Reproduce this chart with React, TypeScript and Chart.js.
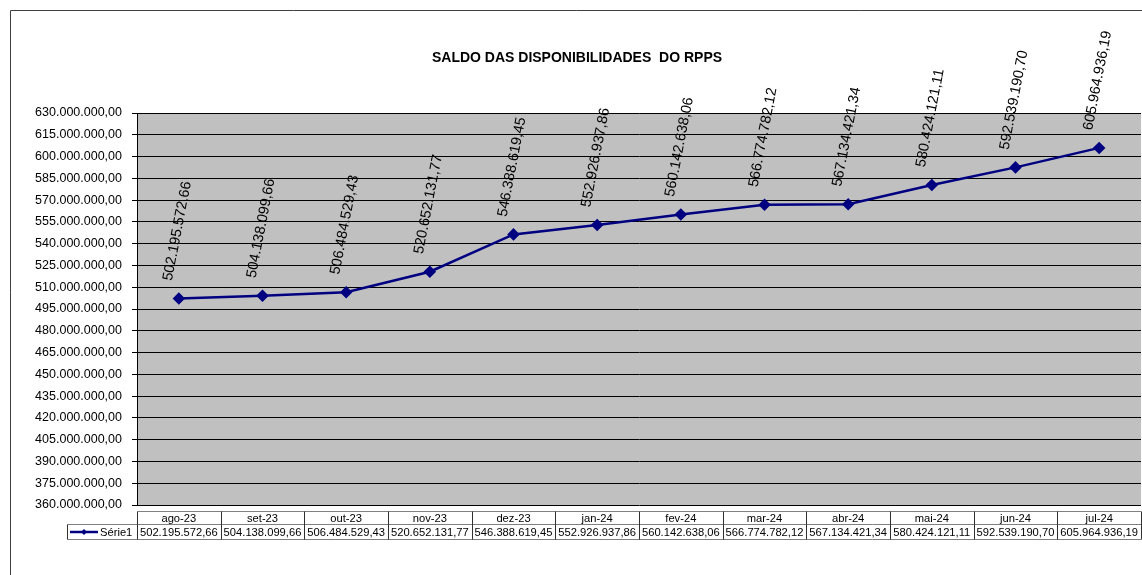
import React, { useEffect, useRef } from "react";
import { Chart, registerables } from "chart.js";

Chart.register(...registerables);

const title = "SALDO DAS DISPONIBILIDADES  DO RPPS";
const seriesName = "Série1";
const categories = [
  "ago-23", "set-23", "out-23", "nov-23", "dez-23", "jan-24",
  "fev-24", "mar-24", "abr-24", "mai-24", "jun-24", "jul-24",
];
const values = [
  502195572.66, 504138099.66, 506484529.43, 520652131.77, 546388619.45, 552926937.86,
  560142638.06, 566774782.12, 567134421.34, 580424121.11, 592539190.7, 605964936.19,
];
const yMin = 360000000;
const yMax = 630000000;
const yStep = 15000000;

const FONT = "'Liberation Sans', Arial, sans-serif";
const NAVY = "#000080";

function fmt(v: number): string {
  const [i, d] = v.toFixed(2).split(".");
  return i.replace(/\B(?=(\d{3})+(?!\d))/g, ".") + "," + d;
}

const decorPlugin = {
  id: "decor",
  beforeDraw(chart: any) {
    const { ctx, chartArea } = chart;
    ctx.save();
    ctx.fillStyle = "#ffffff";
    ctx.fillRect(0, 0, chart.width, chart.height);
    ctx.fillStyle = "#C0C0C0";
    ctx.fillRect(chartArea.left, chartArea.top, chartArea.right - chartArea.left, chartArea.bottom - chartArea.top);
    ctx.restore();
  },
  afterDraw(chart: any) {
    const { ctx } = chart;
    const xs = chart.scales.x;
    ctx.save();
    // outer frame
    ctx.strokeStyle = "#404040";
    ctx.lineWidth = 1;
    ctx.beginPath();
    ctx.moveTo(10.5, chart.height);
    ctx.lineTo(10.5, 10.5);
    ctx.lineTo(chart.width, 10.5);
    ctx.stroke();

    // title
    ctx.fillStyle = "#000";
    ctx.font = `bold 14px ${FONT}`;
    ctx.textAlign = "center";
    ctx.textBaseline = "middle";
    ctx.fillText(title, 577, 58);

    // data labels
    const meta = chart.getDatasetMeta(0);
    ctx.font = `14.5px ${FONT}`;
    ctx.textAlign = "left";
    ctx.textBaseline = "middle";
    meta.data.forEach((pt: any, i: number) => {
      ctx.save();
      ctx.translate(pt.x - 11, pt.y - 18);
      ctx.rotate((-79 * Math.PI) / 180);
      ctx.fillText(fmt(values[i]), 0, 0);
      ctx.restore();
    });

    // data table
    const half = (xs.getPixelForValue(1) - xs.getPixelForValue(0)) / 2;
    const r0 = 511.5, r1 = 524.5, r2 = 539.5;
    const left = xs.getPixelForValue(0) - half;
    const right = xs.getPixelForValue(categories.length - 1) + half;
    const legLeft = 67.5;
    ctx.lineWidth = 1;
    ctx.strokeStyle = "#808080";
    ctx.beginPath();
    ctx.moveTo(Math.round(left) + 0.5, r0);
    ctx.lineTo(right, r0);
    ctx.moveTo(legLeft, r1);
    ctx.lineTo(right, r1);
    ctx.moveTo(legLeft, r2);
    ctx.lineTo(right, r2);
    ctx.stroke();
    ctx.strokeStyle = "#303030";
    ctx.beginPath();
    ctx.moveTo(legLeft, r1);
    ctx.lineTo(legLeft, r2);
    for (let i = 0; i <= categories.length; i++) {
      const xx = Math.round(left + i * 2 * half) + 0.5;
      ctx.moveTo(xx, r0);
      ctx.lineTo(xx, r2);
    }
    ctx.stroke();

    ctx.fillStyle = "#000";
    ctx.font = `11.2px ${FONT}`;
    ctx.textAlign = "center";
    ctx.textBaseline = "middle";
    categories.forEach((c, i) => {
      const cx = xs.getPixelForValue(i);
      ctx.fillText(c, cx, (r0 + r1) / 2 + 0.5);
      ctx.fillText(fmt(values[i]), cx, (r1 + r2) / 2 + 0.5);
    });
    // legend key
    ctx.strokeStyle = NAVY;
    ctx.lineWidth = 2.5;
    ctx.beginPath();
    ctx.moveTo(70, (r1 + r2) / 2);
    ctx.lineTo(98, (r1 + r2) / 2);
    ctx.stroke();
    ctx.fillStyle = NAVY;
    ctx.beginPath();
    const ky = (r1 + r2) / 2, kx = 84;
    ctx.moveTo(kx, ky - 3);
    ctx.lineTo(kx + 3, ky);
    ctx.lineTo(kx, ky + 3);
    ctx.lineTo(kx - 3, ky);
    ctx.closePath();
    ctx.fill();
    ctx.fillStyle = "#000";
    ctx.textAlign = "left";
    ctx.fillText(seriesName, 100, ky + 0.5);
    ctx.restore();
  },
};

export default function App() {
  const ref = useRef<HTMLCanvasElement | null>(null);
  useEffect(() => {
    if (!ref.current) return;
    const chart = new Chart(ref.current, {
      type: "line",
      data: {
        labels: categories,
        datasets: [
          {
            label: seriesName,
            data: values,
            borderColor: NAVY,
            backgroundColor: NAVY,
            borderWidth: 2.5,
            pointStyle: "rectRot",
            pointRadius: 4.5,
            pointBackgroundColor: NAVY,
            pointBorderColor: NAVY,
            tension: 0,
            clip: false as any,
          },
        ],
      },
      options: {
        animation: false,
        responsive: false,
        devicePixelRatio: 1,
        layout: { autoPadding: false, padding: { top: 113, bottom: 70, left: 0, right: 1 } },
        plugins: { legend: { display: false }, tooltip: { enabled: false }, title: { display: false } },
        scales: {
          x: { type: "category", display: false, offset: true },
          y: {
            min: yMin,
            max: yMax,
            afterFit(scale: any) {
              scale.width = 137;
            },
            ticks: {
              stepSize: yStep,
              padding: 10,
              color: "#000",
              font: { family: FONT, size: 12.5 },
              callback: (v: any) => fmt(Number(v)),
            },
            grid: { color: "#000", lineWidth: 1, tickLength: 5, drawTicks: true },
            border: { display: true, color: "#000", width: 1 },
          },
        },
      },
      plugins: [decorPlugin],
    });
    return () => chart.destroy();
  }, []);
  return (
    <div style={{ position: "absolute", left: 0, top: 0, width: 1142, height: 575 }}>
      <canvas ref={ref} width={1142} height={575} style={{ width: 1142, height: 575, display: "block" }} />
    </div>
  );
}
